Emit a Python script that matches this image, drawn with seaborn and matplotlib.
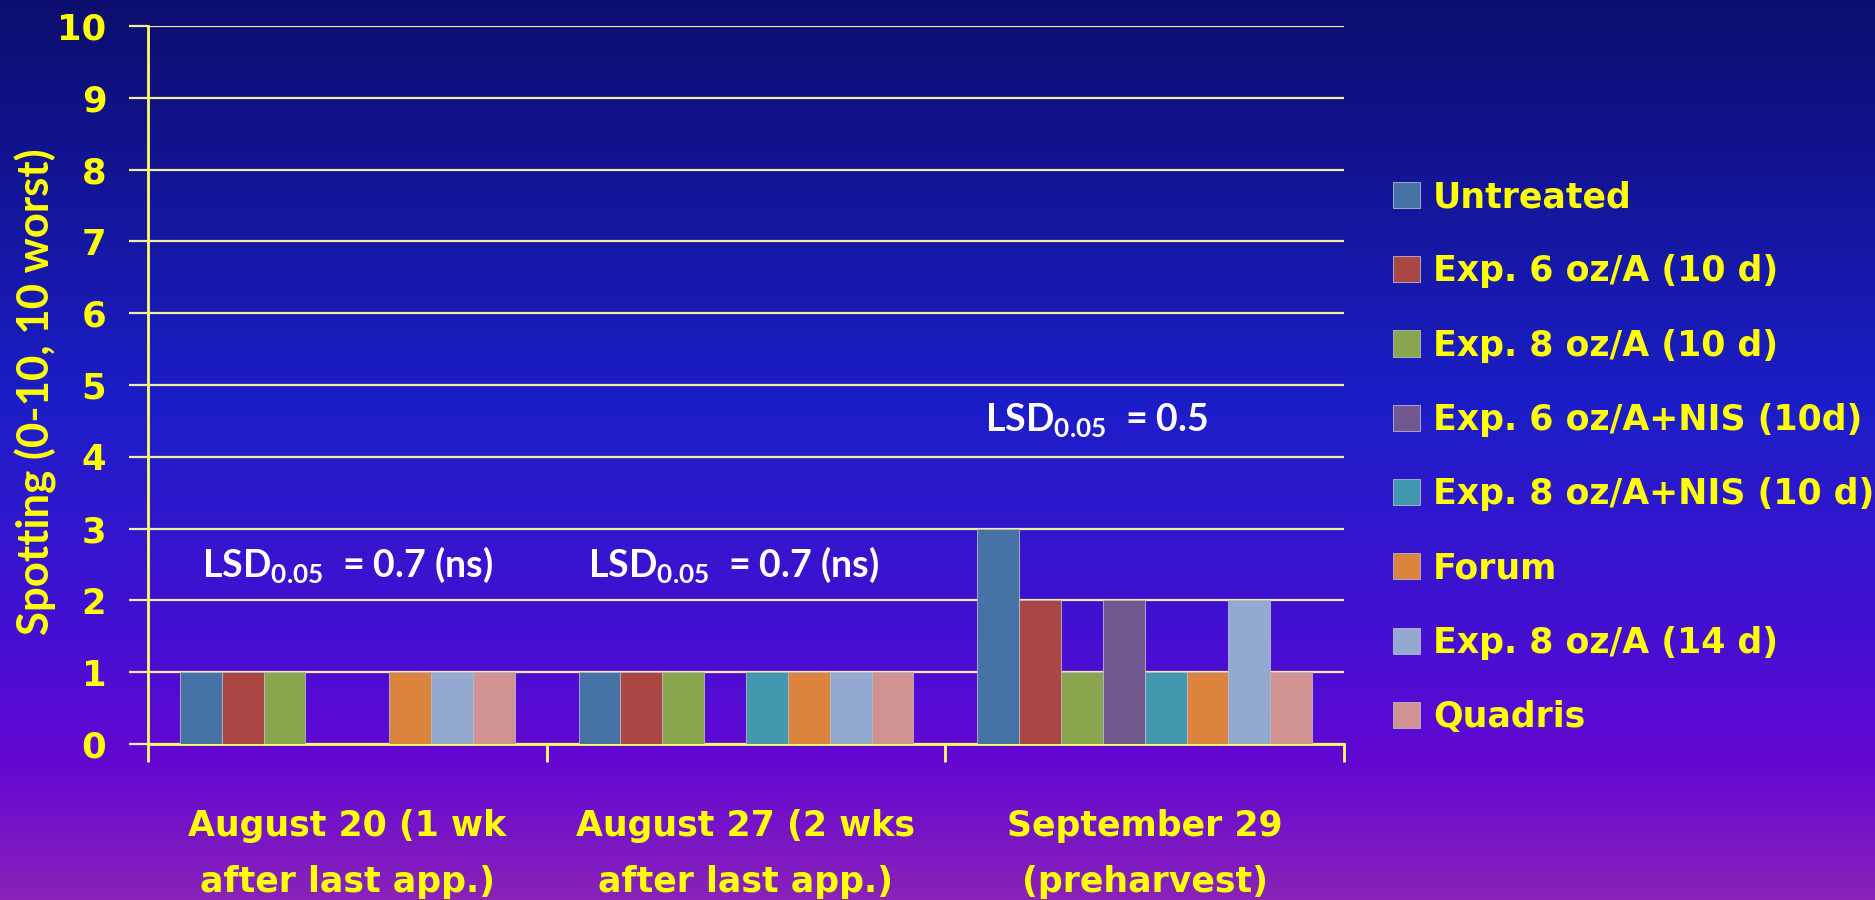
import numpy as np
import pandas as pd
import matplotlib
matplotlib.use("Agg")
import matplotlib.pyplot as plt
import seaborn as sns

dates = ["August 20 (1 wk\nafter last app.)",
         "August 27 (2 wks\nafter last app.)",
         "September 29\n(preharvest)"]
treatments = ["Untreated", "Exp. 6 oz/A (10 d)", "Exp. 8 oz/A (10 d)",
              "Exp. 6 oz/A+NIS (10d)", "Exp. 8 oz/A+NIS (10 d)", "Forum",
              "Exp. 8 oz/A (14 d)", "Quadris"]
aug20 = [1, 1, 1, np.nan, np.nan, 1, 1, 1]
aug27 = [1, 1, 1, np.nan, 1, 1, 1, 1]
sep29 = [3, 2, 1, 2, 1, 1, 2, 1]
lsd_labels = ["0.7 (ns)", "0.7 (ns)", "0.5"]
colors = ["#4673a6", "#aa4643", "#89a54e", "#71588f",
          "#4198af", "#db843d", "#93a9cf", "#d19392"]

rows = []
for date, vals in zip(dates, [aug20, aug27, sep29]):
    for t, v in zip(treatments, vals):
        rows.append({"date": date, "treatment": t, "spotting": v})
df = pd.DataFrame(rows).dropna()

sns.set_style("white")
plt.rcParams["mathtext.fontset"] = "custom"
plt.rcParams["mathtext.rm"] = "Lato:bold"
plt.rcParams["mathtext.bf"] = "Lato:bold"

YELLOW = "#ffff00"
GRID = "#f2eea0"

fig = plt.figure(figsize=(18.75, 9), dpi=100)

# gradient background
bg = fig.add_axes([0, 0, 1, 1], zorder=-10)
stops = np.array([0.0, 0.45, 0.7, 0.85, 1.0])
cols = np.array([[12, 14, 110], [28, 30, 200], [68, 16, 210],
                 [100, 8, 210], [138, 35, 185]]) / 255.0
yy = np.linspace(0, 1, 900)
grad = np.stack([np.interp(yy, stops, cols[:, k]) for k in range(3)], axis=-1)
bg.imshow(grad[:, None, :], aspect="auto", extent=[0, 1, 0, 1])
bg.axis("off")

ax = fig.add_axes([148 / 1875, 1 - 744 / 900, (1344 - 148) / 1875, (744 - 26) / 900])
ax.set_facecolor("none")

sns.barplot(data=df, x="date", y="spotting", hue="treatment",
            order=dates, hue_order=treatments, palette=colors,
            saturation=1, width=0.84, errorbar=None,
            edgecolor="#b8b8c8", linewidth=0.6, ax=ax, zorder=3)

ax.set_ylim(0, 10)
ax.set_xlim(-0.5, 2.5)
ax.set_yticks(range(0, 11))
ax.yaxis.grid(True, color=GRID, linewidth=1.6, zorder=0)
ax.set_axisbelow(True)
for s in ["top", "right"]:
    ax.spines[s].set_visible(False)
for s in ["left", "bottom"]:
    ax.spines[s].set_color("#ffff66")
    ax.spines[s].set_linewidth(2)

ax.tick_params(axis="y", left=True, direction="out", length=14, width=1.6, color=GRID,
               labelcolor=YELLOW, labelsize=25.5, pad=16)
ax.set_xticks([0, 1, 2])
ax.set_xticklabels(dates)
ax.set_xticks([-0.5, 0.5, 1.5, 2.5], minor=True)
ax.tick_params(axis="x", which="major", bottom=True, length=0, pad=47,
               labelcolor=YELLOW, labelsize=25)
ax.tick_params(axis="x", which="minor", bottom=True, direction="out", length=13,
               width=2, color="#ffff66")
for lab in ax.get_xticklabels() + ax.get_yticklabels():
    lab.set_fontweight("bold")
    lab.set_family("DejaVu Sans")
for lab in ax.get_xticklabels():
    lab.set_linespacing(1.8)

ax.set_xlabel("")
ax.set_ylabel("Spotting (0-10, 10 worst)", color=YELLOW, fontsize=31.5,
              fontweight="bold", family="Lato")
ax.yaxis.set_label_coords(-0.076, 0.49)

# LSD annotations
lsd_x = [0.0, 0.97, 1.88]
lsd_y = [2.5, 2.5, 4.5]
for x, y, s in zip(lsd_x, lsd_y, lsd_labels):
    ax.text(x, y, r"LSD$_{\mathbf{0.05}}$  = " + s, color="white", fontsize=27,
            fontweight="bold", family="Lato", ha="center", va="center", zorder=5)

handles, labels = ax.get_legend_handles_labels()
ax.legend(handles, labels, loc="upper left",
          bbox_to_anchor=(1393 / 1875, 1 - 180 / 900), bbox_transform=fig.transFigure,
          frameon=False, labelcolor=YELLOW,
          prop={"family": "DejaVu Sans", "weight": "bold", "size": 25},
          handlelength=0.78, handleheight=0.78, handletextpad=0.375,
          labelspacing=1.16, borderpad=0, borderaxespad=0)

fig.savefig("out.png", dpi=100)
